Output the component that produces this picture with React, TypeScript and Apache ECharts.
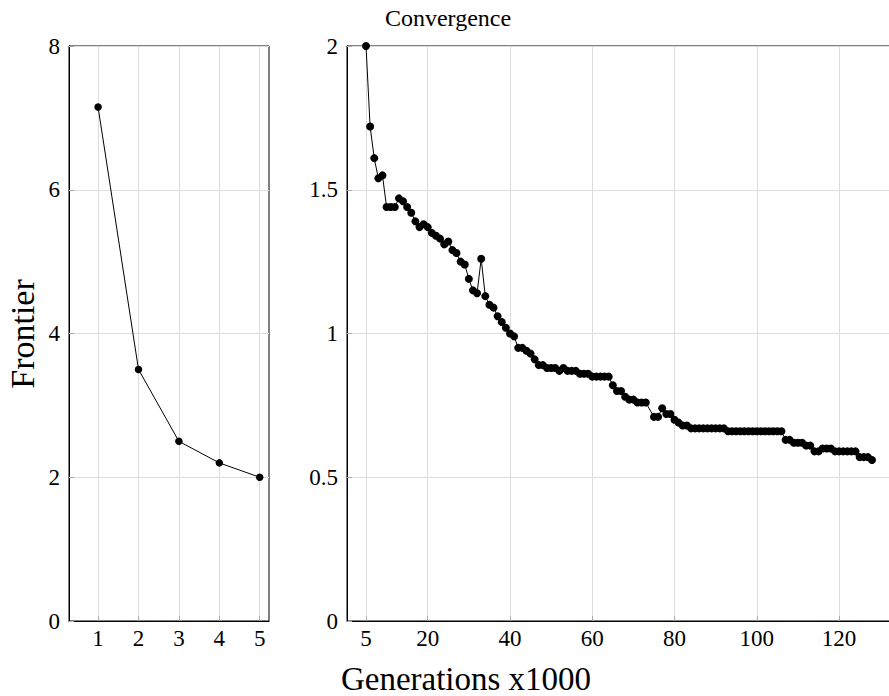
import React, { useEffect, useRef } from "react";
import * as echarts from "echarts";

const leftX = [1, 2, 3, 4, 5];
const leftY = [7.15, 3.5, 2.5, 2.2, 2.0];

const gens = [
  5, 6, 7, 8, 9, 10, 11, 12, 13, 14, 15, 16, 17, 18, 19, 20, 21, 22, 23, 24,
  25, 26, 27, 28, 29, 30, 31, 32, 33, 34, 35, 36, 37, 38, 39, 40, 41, 42, 43, 44,
  45, 46, 47, 48, 49, 50, 51, 52, 53, 54, 55, 56, 57, 58, 59, 60, 61, 62, 63, 64,
  65, 66, 67, 68, 69, 70, 71, 72, 73, 75, 76, 77, 78, 79, 80, 81, 82, 83, 84, 85,
  86, 87, 88, 89, 90, 91, 92, 93, 94, 95, 96, 97, 98, 99, 100, 101, 102, 103, 104, 105,
  106, 107, 108, 109, 110, 111, 112, 113, 114, 115, 116, 117, 118, 119, 120, 121, 122, 123, 124, 125,
  126, 127, 128,
];
const frontier = [
  2.0, 1.72, 1.61, 1.54, 1.55, 1.44, 1.44, 1.44, 1.47, 1.46, 1.44, 1.42, 1.39, 1.37, 1.38, 1.37, 1.35, 1.34, 1.33, 1.31,
  1.32, 1.29, 1.28, 1.25, 1.24, 1.19, 1.15, 1.14, 1.26, 1.13, 1.1, 1.09, 1.06, 1.04, 1.02, 1.0, 0.99, 0.95, 0.95, 0.94,
  0.93, 0.91, 0.89, 0.89, 0.88, 0.88, 0.88, 0.87, 0.88, 0.87, 0.87, 0.87, 0.86, 0.86, 0.86, 0.85, 0.85, 0.85, 0.85, 0.85,
  0.82, 0.8, 0.8, 0.78, 0.77, 0.77, 0.76, 0.76, 0.76, 0.71, 0.71, 0.74, 0.72, 0.72, 0.7, 0.69, 0.68, 0.68, 0.67, 0.67,
  0.67, 0.67, 0.67, 0.67, 0.67, 0.67, 0.67, 0.66, 0.66, 0.66, 0.66, 0.66, 0.66, 0.66, 0.66, 0.66, 0.66, 0.66, 0.66, 0.66,
  0.66, 0.63, 0.63, 0.62, 0.62, 0.62, 0.61, 0.61, 0.59, 0.59, 0.6, 0.6, 0.6, 0.59, 0.59, 0.59, 0.59, 0.59, 0.59, 0.57,
  0.57, 0.57, 0.56,
];

const leftXTicks = [1, 2, 3, 4, 5];
const rightXTicks = [5, 20, 40, 60, 80, 100, 120];

const FONT = "'Liberation Serif', 'DejaVu Serif', serif";

export default function App() {
  const ref = useRef<HTMLDivElement>(null);
  useEffect(() => {
    if (!ref.current) return;
    const chart = echarts.init(ref.current, undefined, { renderer: "svg" });
    const axisLabel = { color: "#000", fontFamily: FONT, fontSize: 23 };
    const splitLine = { show: true, lineStyle: { color: "#dcdcdc", width: 1 } };
    const axisTick = { show: true, inside: true, length: 5, lineStyle: { color: "#aaa" } };
    const axisLine = { show: true, lineStyle: { color: "#000", width: 1 } };
    chart.setOption({
      animation: false,
      backgroundColor: "#fff",
      grid: [
        { left: 69, top: 46, width: 200, height: 575, show: true, borderColor: "#000", borderWidth: 1, backgroundColor: "transparent", outerBoundsMode: "none", containLabel: false },
        { left: 347, top: 46, width: 555, height: 575, show: true, borderColor: "#000", borderWidth: 1, backgroundColor: "transparent", outerBoundsMode: "none", containLabel: false },
      ],
      xAxis: [
        {
          type: "value", gridIndex: 0, min: 0.28, max: 5.23,
          axisLine, splitLine,
          axisTick: { ...axisTick, customValues: leftXTicks },
          axisLabel: { ...axisLabel, margin: 6, customValues: leftXTicks },
        },
        {
          type: "value", gridIndex: 1, min: 0.38, max: 135.3,
          axisLine, splitLine,
          axisTick: { ...axisTick, customValues: rightXTicks },
          axisLabel: { ...axisLabel, margin: 6, customValues: rightXTicks },
        },
      ],
      yAxis: [
        {
          type: "value", gridIndex: 0, min: 0, max: 8, interval: 2,
          axisLine, splitLine, axisTick,
          axisLabel: { ...axisLabel, margin: 9 },
        },
        {
          type: "value", gridIndex: 1, min: 0, max: 2, interval: 0.5,
          axisLine, splitLine, axisTick,
          axisLabel: { ...axisLabel, margin: 9 },
        },
      ],
      series: [
        {
          type: "line", xAxisIndex: 0, yAxisIndex: 0,
          data: leftX.map((x, i) => [x, leftY[i]]),
          symbol: "circle", symbolSize: 7.5,
          itemStyle: { color: "#000" },
          lineStyle: { color: "#000", width: 1 },
        },
        {
          type: "line", xAxisIndex: 1, yAxisIndex: 1,
          data: gens.map((g, i) => [g, frontier[i]]),
          symbol: "circle", symbolSize: 8,
          itemStyle: { color: "#000" },
          lineStyle: { color: "#000", width: 1 },
        },
      ],
      graphic: [
        {
          type: "text", x: 448, y: 18,
          style: { text: "Convergence", fontFamily: FONT, fontSize: 24, fill: "#000", textAlign: "center", textVerticalAlign: "middle" },
        },
        {
          type: "text", x: 22, y: 334, rotation: Math.PI / 2,
          style: { text: "Frontier", fontFamily: FONT, fontSize: 34, fill: "#000", textAlign: "center", textVerticalAlign: "middle" },
        },
        {
          type: "text", x: 466, y: 679,
          style: { text: "Generations x1000", fontFamily: FONT, fontSize: 33, fill: "#000", textAlign: "center", textVerticalAlign: "middle" },
        },
      ],
    });
    return () => chart.dispose();
  }, []);
  return (
    <div
      ref={ref}
      style={{ position: "absolute", left: 0, top: 0, width: 889, height: 696, overflow: "hidden" }}
    />
  );
}
